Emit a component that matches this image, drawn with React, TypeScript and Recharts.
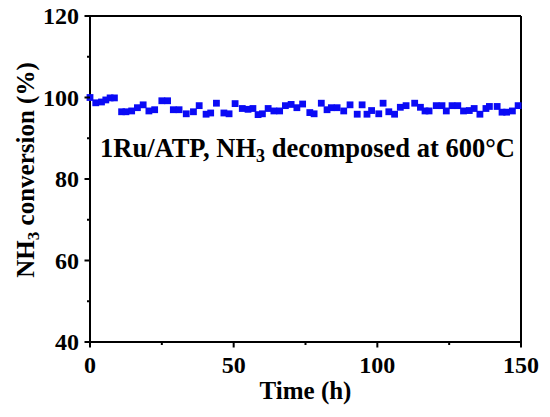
import { ScatterChart, Scatter, XAxis, YAxis, ReferenceLine } from 'recharts';

// time on stream (h) and NH3 conversion (%)
const hours = [
  0, 2, 4, 5.5, 7, 8.5, 11, 12.5, 14.5, 16.5, 18.5, 20.5, 22.5, 25, 27, 29, 31, 33.5, 36,
  38, 40.4, 42, 44, 46.6, 48.4, 50.5, 53, 55, 56.7, 58.5, 60, 62, 64, 66, 68, 70, 72, 74,
  76.5, 78, 80.5, 82.5, 84, 86, 88.3, 90.5, 93, 94.7, 96.4, 98, 100.5, 102, 104, 106, 108, 110,
  113, 115, 116.6, 118, 120.5, 122.5, 124, 126, 128, 130, 132, 133.7, 135.7, 137.8, 139, 141.7,
  143.4, 145, 147, 149,
];
const conversion = [
  100, 98.7, 98.9, 99.4, 99.9, 99.9, 96.5, 96.5, 96.7, 97.5, 98.2, 96.7, 97, 99.2, 99.2, 97, 97, 96, 96.5,
  98, 95.9, 96.2, 98.6, 96.2, 96, 98.5, 97.3, 97.1, 97.3, 95.8, 96, 97.3, 96.7, 96.7, 98, 98.3, 97.5, 98.4,
  96.3, 96, 98.6, 97, 97.5, 97.5, 96.7, 98.2, 95.9, 98.2, 95.9, 96.8, 96, 98.6, 96.5, 95.9, 97.6, 98,
  98.6, 97.6, 96.7, 96.7, 98, 98, 96.7, 98, 98, 96.7, 96.8, 97.3, 95.9, 97.3, 97.8, 97.8,
  96.4, 96.4, 96.7, 98,
];
const xTicks = [0, 25, 50, 75, 100, 125, 150];
const xLabelled = [0, 50, 100, 150];
const yTicks = [40, 50, 60, 70, 80, 90, 100, 110, 120];
const yLabelled = [40, 60, 80, 100, 120];

const points = hours.map((t, i) => ({ t, v: conversion[i] }));

const FONT = '"Liberation Serif", "Times New Roman", serif';

function XTick({ x, y, payload }: any) {
  const major = xLabelled.includes(payload.value);
  return (
    <g>
      <line x1={x} x2={x} y1={y} y2={y + (major ? 5.5 : 3)} stroke="#000" strokeWidth={2} />
      {major && (
        <text x={x} y={y + 31} textAnchor="middle" fontFamily={FONT} fontWeight="bold" fontSize={24} fill="#000">
          {payload.value}
        </text>
      )}
    </g>
  );
}

function YTick({ x, y, payload }: any) {
  const major = yLabelled.includes(payload.value);
  return (
    <g>
      <line x1={x} x2={x - (major ? 5.5 : 3)} y1={y} y2={y} stroke="#000" strokeWidth={2} />
      {major && (
        <text x={x - 11} y={y + 8} textAnchor="end" fontFamily={FONT} fontWeight="bold" fontSize={24} fill="#000">
          {payload.value}
        </text>
      )}
    </g>
  );
}

function Marker({ cx, cy }: any) {
  return <rect x={cx - 3.4} y={cy - 3.4} width={6.8} height={6.8} fill="#0a0af5" />;
}

export default function App() {
  return (
    <div style={{ position: 'absolute', left: 0, top: 0, width: 550, height: 417, background: '#fff' }}>
      <ScatterChart width={550} height={417} margin={{ top: 16, right: 29, left: 0, bottom: 0 }}>
        <XAxis
          type="number"
          dataKey="t"
          domain={[0, 150]}
          ticks={xTicks}
          interval={0}
          height={75}
          tickSize={0}
          tickMargin={0}
          tickLine={false}
          axisLine={{ stroke: '#000', strokeWidth: 2 }}
          tick={(p: any) => <XTick {...p} />}
          label={{
            content: ({ viewBox }: any) => (
              <text x={viewBox.x + viewBox.width / 2} y={viewBox.y + 57} textAnchor="middle"
                fontFamily={FONT} fontWeight="bold" fontSize={25} fill="#000">
                Time (h)
              </text>
            ),
          }}
        />
        <YAxis
          type="number"
          dataKey="v"
          domain={[40, 120]}
          ticks={yTicks}
          interval={0}
          width={90}
          tickSize={0}
          tickMargin={0}
          tickLine={false}
          axisLine={{ stroke: '#000', strokeWidth: 2 }}
          tick={(p: any) => <YTick {...p} />}
          label={{
            content: ({ viewBox }: any) => {
              const cx = 34;
              const cy = viewBox.y + viewBox.height / 2 - 9;
              return (
                <text x={cx} y={cy} transform={`rotate(-90 ${cx} ${cy})`} textAnchor="middle"
                  fontFamily={FONT} fontWeight="bold" fontSize={25} fill="#000">
                  NH<tspan fontSize={17} dy={5}>3</tspan><tspan dy={-5}> conversion (%)</tspan>
                </text>
              );
            },
          }}
        />
        <ReferenceLine y={120} stroke="#000" strokeWidth={2} />
        <ReferenceLine x={150} stroke="#000" strokeWidth={2} />
        <Scatter data={points} shape={<Marker />} isAnimationActive={false} />
      </ScatterChart>
      <svg width={550} height={417} style={{ position: 'absolute', left: 0, top: 0, pointerEvents: 'none' }}>
        <text x={100} y={157} fontFamily={FONT} fontWeight="bold" fontSize={26.5} fill="#000">
          1Ru/ATP, NH<tspan fontSize={18} dy={5}>3</tspan><tspan dy={-5}> decomposed at 600°C</tspan>
        </text>
      </svg>
    </div>
  );
}
